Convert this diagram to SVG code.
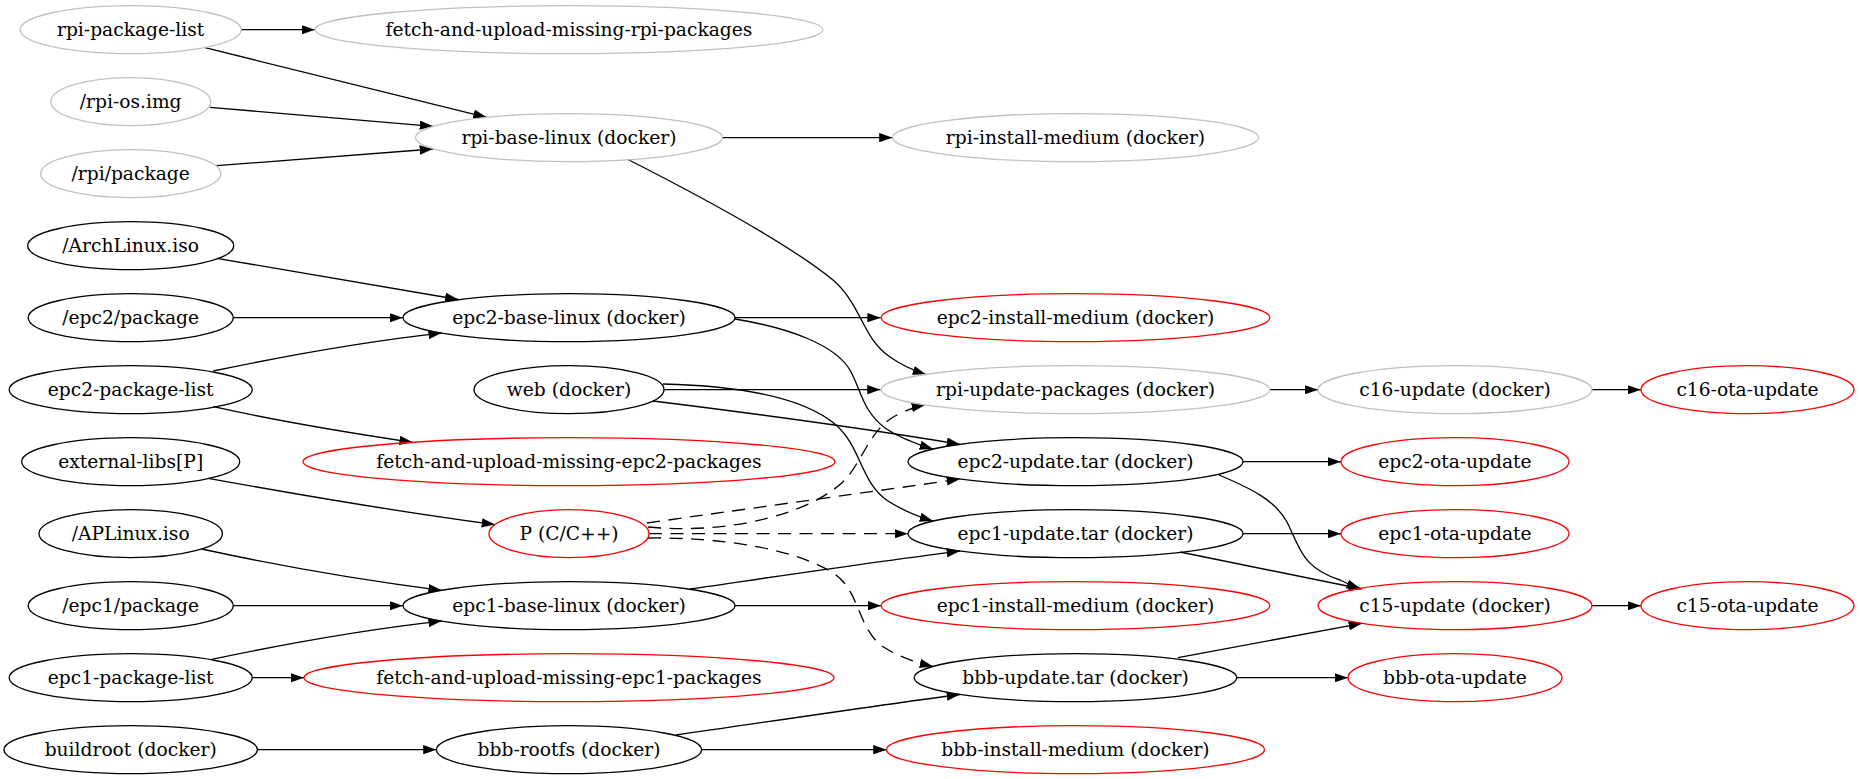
<svg xmlns="http://www.w3.org/2000/svg" width="1860" height="779" viewBox="0 0 1860 779">
<style>
.node ellipse{fill:none;stroke:#000;stroke-width:1.33}
.node.gray ellipse{stroke:#c0c0c0}
.node.red ellipse{stroke:#ff0000}
.node text{font-family:"DejaVu Serif",serif;font-size:18.67px;fill:#000;text-anchor:middle}
.edges path{fill:none;stroke:#000;stroke-width:1.33;marker-end:url(#ah)}
.edges path.d{stroke-dasharray:13,8.5}
</style>
<defs>
<marker id="ah" markerUnits="userSpaceOnUse" viewBox="0 0 13.33 9.33" markerWidth="13.33" markerHeight="9.33" refX="13.33" refY="4.665" orient="auto">
<path d="M0,0 L13.33,4.665 L0,9.33 z" fill="#000"/>
</marker>
</defs>
<rect width="1860" height="779" fill="#fff"/>
<g class="edges">
<path d="M241,29.7 L315,29.7"/>
<path d="M205,47.7 L486.6,117.3"/>
<path d="M210,107.3 L433,126.3"/>
<path d="M216.5,165.7 L433,149"/>
<path d="M722.5,137.6 L892.5,137.6"/>
<path d="M628,159.5 C700,196 790,245 833,280 C862,305 862,338 890,357 C900,364 912,370 926,374.5"/>
<path d="M216.7,258.3 L458.3,299.5"/>
<path d="M233.2,317.7 L403,317.7"/>
<path d="M213.3,371 C280,357 360,342 441.7,333.1"/>
<path d="M213.3,406.7 C260,417 330,430 412.7,442.3"/>
<path d="M735,317.7 L880.7,317.7"/>
<path d="M735,319 C790,328 835,345 850,370 C862,392 862,410 885,428 C898,437 913,443 933,449.1"/>
<path d="M664,389.7 L880.5,389.7"/>
<path d="M653,401 C750,413 880,431 960,444.3"/>
<path d="M663,384 C745,386 805,398 836,425 C862,448 860,482 888,501 C902,510 916,516 933,521.1"/>
<path d="M208.3,478.3 C300,495 400,512 495,524.6"/>
<path class="d" d="M648,527 C730,535 812,513 845,480 C864,458 870,430 895,416 C905,411 914,407 925,404.9"/>
<path class="d" d="M647,523 C760,507 870,492 960,479.1"/>
<path class="d" d="M649,533.7 L908,533.7"/>
<path class="d" d="M648,538 C725,537 800,550 836,575 C860,593 858,628 882,646 C897,656 914,662 933,666.4"/>
<path d="M201.7,549 C280,566 360,580 441.7,590.3"/>
<path d="M233.2,605.7 L403,605.7"/>
<path d="M211.7,659.3 C280,645 360,630 441.7,621.1"/>
<path d="M252.2,677.7 L304,677.7"/>
<path d="M690,589 C780,576 880,561 960,551.1"/>
<path d="M735,605.7 L881.2,605.7"/>
<path d="M257.4,749.7 L436.5,749.7"/>
<path d="M676,735 C760,723 880,705 960,694.5"/>
<path d="M701.5,749.7 L886.5,749.7"/>
<path d="M1269.8,389.7 L1318,389.7"/>
<path d="M1592,389.7 L1641,389.7"/>
<path d="M1243,461.7 L1341,461.7"/>
<path d="M1219,475 C1250,488 1275,500 1287,522 C1300,548 1302,568 1340,580 C1346,583 1353,586 1360,588.4"/>
<path d="M1243,533.7 L1341,533.7"/>
<path d="M1180,552 L1362,589"/>
<path d="M1178,657.7 L1362,623.3"/>
<path d="M1237,677.7 L1348,677.7"/>
<path d="M1592,605.7 L1641,605.7"/>
</g>
<g id="rpi-package-list" class="node gray"><ellipse cx="130.7" cy="29.7" rx="110.5" ry="24"/><text x="130.7" y="35.7">rpi-package-list</text></g>
<g id="rpi-os-img" class="node gray"><ellipse cx="130.7" cy="101.7" rx="80" ry="24"/><text x="130.7" y="107.7">/rpi-os.img</text></g>
<g id="rpi-package" class="node gray"><ellipse cx="130.7" cy="173.7" rx="90" ry="24"/><text x="130.7" y="179.7">/rpi/package</text></g>
<g id="archlinux-iso" class="node"><ellipse cx="130.7" cy="245.7" rx="103" ry="24"/><text x="130.7" y="251.7">/ArchLinux.iso</text></g>
<g id="epc2-package" class="node"><ellipse cx="130.7" cy="317.7" rx="102.5" ry="24"/><text x="130.7" y="323.7">/epc2/package</text></g>
<g id="epc2-package-list" class="node"><ellipse cx="130.7" cy="389.7" rx="121.5" ry="24"/><text x="130.7" y="395.7">epc2-package-list</text></g>
<g id="external-libs" class="node"><ellipse cx="130.7" cy="461.7" rx="109" ry="24"/><text x="130.7" y="467.7">external-libs[P]</text></g>
<g id="aplinux-iso" class="node"><ellipse cx="130.7" cy="533.7" rx="91.7" ry="24"/><text x="130.7" y="539.7">/APLinux.iso</text></g>
<g id="epc1-package" class="node"><ellipse cx="130.7" cy="605.7" rx="102.5" ry="24"/><text x="130.7" y="611.7">/epc1/package</text></g>
<g id="epc1-package-list" class="node"><ellipse cx="130.7" cy="677.7" rx="121.5" ry="24"/><text x="130.7" y="683.7">epc1-package-list</text></g>
<g id="buildroot" class="node"><ellipse cx="130.7" cy="749.7" rx="126.7" ry="24"/><text x="130.7" y="755.7">buildroot (docker)</text></g>
<g id="fetch-rpi" class="node gray"><ellipse cx="569" cy="29.7" rx="254" ry="24"/><text x="569" y="35.7">fetch-and-upload-missing-rpi-packages</text></g>
<g id="rpi-base-linux" class="node gray"><ellipse cx="569" cy="137.6" rx="153.5" ry="24"/><text x="569" y="143.6">rpi-base-linux (docker)</text></g>
<g id="epc2-base-linux" class="node"><ellipse cx="569" cy="317.7" rx="166" ry="24"/><text x="569" y="323.7">epc2-base-linux (docker)</text></g>
<g id="web" class="node"><ellipse cx="569" cy="389.7" rx="95" ry="24"/><text x="569" y="395.7">web (docker)</text></g>
<g id="fetch-epc2" class="node red"><ellipse cx="569" cy="461.7" rx="266" ry="24"/><text x="569" y="467.7">fetch-and-upload-missing-epc2-packages</text></g>
<g id="p-cpp" class="node red"><ellipse cx="569" cy="533.7" rx="80" ry="24"/><text x="569" y="539.7">P (C/C++)</text></g>
<g id="epc1-base-linux" class="node"><ellipse cx="569" cy="605.7" rx="166" ry="24"/><text x="569" y="611.7">epc1-base-linux (docker)</text></g>
<g id="fetch-epc1" class="node red"><ellipse cx="569" cy="677.7" rx="265" ry="24"/><text x="569" y="683.7">fetch-and-upload-missing-epc1-packages</text></g>
<g id="bbb-rootfs" class="node"><ellipse cx="569" cy="749.7" rx="132.5" ry="24"/><text x="569" y="755.7">bbb-rootfs (docker)</text></g>
<g id="rpi-install-medium" class="node gray"><ellipse cx="1075.5" cy="137.6" rx="183" ry="24"/><text x="1075.5" y="143.6">rpi-install-medium (docker)</text></g>
<g id="epc2-install-medium" class="node red"><ellipse cx="1075.5" cy="317.7" rx="194.3" ry="24"/><text x="1075.5" y="323.7">epc2-install-medium (docker)</text></g>
<g id="rpi-update-packages" class="node gray"><ellipse cx="1075.5" cy="389.7" rx="194.3" ry="24"/><text x="1075.5" y="395.7">rpi-update-packages (docker)</text></g>
<g id="epc2-update-tar" class="node"><ellipse cx="1075.5" cy="461.7" rx="167.5" ry="24"/><text x="1075.5" y="467.7">epc2-update.tar (docker)</text></g>
<g id="epc1-update-tar" class="node"><ellipse cx="1075.5" cy="533.7" rx="167.5" ry="24"/><text x="1075.5" y="539.7">epc1-update.tar (docker)</text></g>
<g id="epc1-install-medium" class="node red"><ellipse cx="1075.5" cy="605.7" rx="194.3" ry="24"/><text x="1075.5" y="611.7">epc1-install-medium (docker)</text></g>
<g id="bbb-update-tar" class="node"><ellipse cx="1075.5" cy="677.7" rx="161.3" ry="24"/><text x="1075.5" y="683.7">bbb-update.tar (docker)</text></g>
<g id="bbb-install-medium" class="node red"><ellipse cx="1075.5" cy="749.7" rx="189" ry="24"/><text x="1075.5" y="755.7">bbb-install-medium (docker)</text></g>
<g id="c16-update" class="node gray"><ellipse cx="1455" cy="389.7" rx="137" ry="24"/><text x="1455" y="395.7">c16-update (docker)</text></g>
<g id="epc2-ota-update" class="node red"><ellipse cx="1455" cy="461.7" rx="114" ry="24"/><text x="1455" y="467.7">epc2-ota-update</text></g>
<g id="epc1-ota-update" class="node red"><ellipse cx="1455" cy="533.7" rx="114" ry="24"/><text x="1455" y="539.7">epc1-ota-update</text></g>
<g id="c15-update" class="node red"><ellipse cx="1455" cy="605.7" rx="137" ry="24"/><text x="1455" y="611.7">c15-update (docker)</text></g>
<g id="bbb-ota-update" class="node red"><ellipse cx="1455" cy="677.7" rx="107" ry="24"/><text x="1455" y="683.7">bbb-ota-update</text></g>
<g id="c16-ota-update" class="node red"><ellipse cx="1747.5" cy="389.7" rx="106.5" ry="24"/><text x="1747.5" y="395.7">c16-ota-update</text></g>
<g id="c15-ota-update" class="node red"><ellipse cx="1747.5" cy="605.7" rx="106.5" ry="24"/><text x="1747.5" y="611.7">c15-ota-update</text></g>
</svg>
